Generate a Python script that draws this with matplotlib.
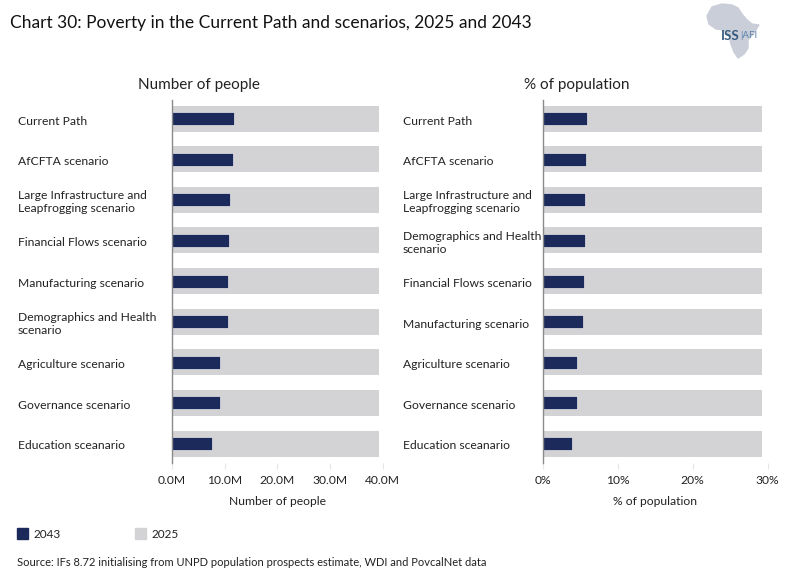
import matplotlib
matplotlib.use("Agg")
import matplotlib.pyplot as plt
from matplotlib.transforms import blended_transform_factory
from matplotlib.patches import Polygon
import numpy as np

plt.rcParams['font.family'] = ['Lato', 'DejaVu Sans']

# data
people_labels = ["Current Path", "AfCFTA scenario",
                 "Large Infrastructure and\nLeapfrogging scenario",
                 "Financial Flows scenario", "Manufacturing scenario",
                 "Demographics and Health\nscenario", "Agriculture scenario",
                 "Governance scenario", "Education sceanario"]
people_2043 = [11.7, 11.5, 11.05, 10.9, 10.67, 10.65, 9.14, 9.12, 7.6]   # millions
people_2025 = [39.4] * 9

pct_labels = ["Current Path", "AfCFTA scenario",
              "Large Infrastructure and\nLeapfrogging scenario",
              "Demographics and Health\nscenario", "Financial Flows scenario",
              "Manufacturing scenario", "Agriculture scenario",
              "Governance scenario", "Education sceanario"]
pct_2043 = [5.9, 5.75, 5.6, 5.6, 5.49, 5.36, 4.56, 4.56, 3.89]
pct_2025 = [29.3] * 9

people_ticks = [0, 10, 20, 30, 40]
people_ticklabels = ["0.0M", "10.0M", "20.0M", "30.0M", "40.0M"]
pct_ticks = [0, 10, 20, 30]
pct_ticklabels = ["0%", "10%", "20%", "30%"]

NAVY = "#1b2a5b"
GREY = "#d3d3d5"
TXT = "#222222"

W, H = 786, 587
fig = plt.figure(figsize=(W / 100, H / 100), dpi=100)


def panel(left_px, right_px, label_x_px, labels, v43, v25, xmax, ticks, ticklabels, title, xlabel):
    ax = fig.add_axes([left_px / W, 1 - 463 / H, (right_px - left_px) / W, 363 / H])
    y = np.arange(len(labels))
    ax.barh(y, v25, height=0.64, color=GREY, zorder=1)
    ax.barh(y, v43, height=0.32, color=NAVY, edgecolor="white", linewidth=0.4, zorder=2)
    ax.set_xlim(0, xmax)
    ax.set_ylim(len(labels) - 0.52, -0.46)
    for s in ["top", "right", "bottom"]:
        ax.spines[s].set_visible(False)
    ax.spines["left"].set_color("#8a8a8a")
    ax.spines["left"].set_linewidth(1.0)
    ax.set_yticks([])
    ax.set_xticks(ticks)
    ax.set_xticklabels(ticklabels, fontsize=8.7, color=TXT)
    ax.tick_params(axis="x", length=4, color="#e6e6e6", pad=5)
    ax.set_xlabel(xlabel, fontsize=8.7, color=TXT, labelpad=7)
    tr = blended_transform_factory(fig.transFigure, ax.transData)
    for yi, lab in zip(y, labels):
        ax.text(label_x_px / W, yi + 0.06, lab, transform=tr, ha="left", va="center",
                fontsize=8.7, color=TXT, linespacing=1.25)
    fig.text(((left_px + right_px) / 2 - 78) / W, 1 - 85 / H, title, ha="center", va="center",
             fontsize=11, color=TXT)
    return ax


panel(172, 382.5, 18, people_labels, people_2043, people_2025, 40,
      people_ticks, people_ticklabels, "Number of people", "Number of people")
panel(542.5, 767.5, 403, pct_labels, pct_2043, pct_2025, 30,
      pct_ticks, pct_ticklabels, "% of population", "% of population")

# title
fig.text(10 / W, 1 - 23 / H, "Chart 30: Poverty in the Current Path and scenarios, 2025 and 2043",
         ha="left", va="center", fontsize=12.5, color="#111111")

# legend
fig.patches.append(plt.Rectangle((17 / W, 1 - 539 / H), 11 / W, 11 / H, transform=fig.transFigure,
                                 color=NAVY))
fig.text(33 / W, 1 - 534 / H, "2043", ha="left", va="center", fontsize=8.5, color=TXT)
fig.patches.append(plt.Rectangle((135 / W, 1 - 539 / H), 11 / W, 11 / H, transform=fig.transFigure,
                                 color=GREY))
fig.text(152 / W, 1 - 534 / H, "2025", ha="left", va="center", fontsize=8.5, color=TXT)

# source
fig.text(17 / W, 1 - 563 / H,
         "Source: IFs 8.72 initialising from UNPD population prospects estimate, WDI and PovcalNet data",
         ha="left", va="center", fontsize=8, color=TXT)

# logo (rough outline of Africa plus text)
africa = [(712, 7), (722, 4), (732, 5), (738, 8), (742, 14), (747, 20), (752, 24), (759, 25),
          (754, 33), (748, 40), (748, 48), (744, 54), (738, 58), (734, 52), (731, 44),
          (729, 36), (724, 30), (716, 29), (709, 24), (707, 16)]
fig.patches.append(Polygon([(x / W, 1 - yy / H) for x, yy in africa], closed=True,
                           transform=fig.transFigure, color="#c9ced8", zorder=0))
fig.text(721 / W, 1 - 36 / H, "ISS", ha="left", va="center", fontsize=9.5, color="#36597e",
         fontweight="bold")
fig.text(740 / W, 1 - 36 / H, "|AFI", ha="left", va="center", fontsize=7, color="#5b82ab")

fig.savefig("out.png", dpi=100)
